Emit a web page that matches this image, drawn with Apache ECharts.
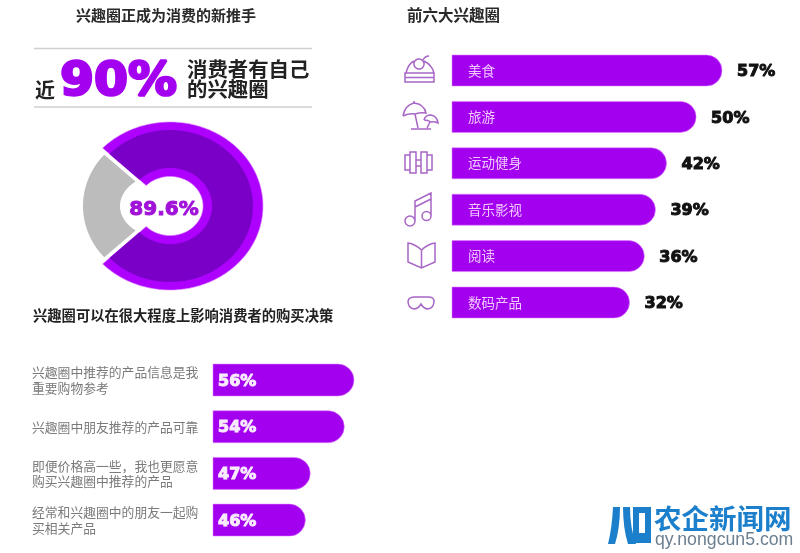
<!DOCTYPE html>
<html>
<head>
<meta charset="utf-8">
<title>兴趣圈</title>
<style>
    html, body { margin: 0; padding: 0; background: #fff; }
    #main { width: 800px; height: 553px; filter: blur(0.4px); }
</style>
<script src="https://cdn.jsdelivr.net/npm/echarts@6/dist/echarts.min.js"></script>
</head>
<body>
<div id="main"></div>
<script>
// 前六大兴趣圈
const topNames = ['美食', '旅游', '运动健身', '音乐影视', '阅读', '数码产品']
const topValues = [57, 50, 42, 39, 36, 32]

// 购买决策
const decisionNames = [
    '兴趣圈中推荐的产品信息是我\n重要购物参考',
    '兴趣圈中朋友推荐的产品可靠',
    '即便价格高一些，我也更愿意\n购买兴趣圈中推荐的产品',
    '经常和兴趣圈中的朋友一起购\n买相关产品'
]
const decisionValues = [56, 54, 47, 46]

// 圆环：印的是 89.6%，但原图画出来的扇区只占约 77%，这里按画出来的比例
const donutLabel = '89.6%'
const donutShares = [77.4, 22.6]

const PURPLE = '#a400f0'
const CJK = '"Noto Sans CJK SC"'
const NUM = '"DejaVu Sans"'

const chart = echarts.init(document.getElementById('main'))

function barShape(api, base, height, extra) {
    const start = api.coord([base, api.value(1)])
    const end = api.coord([api.value(0), api.value(1)])
    const w = end[0] - start[0]
    const r = height / 2
    return [{
        type: 'rect',
        shape: { x: start[0], y: start[1] - r, width: w, height: height, r: [0, r, r, 0] },
        style: { fill: PURPLE, stroke: 'rgba(222,130,255,0.55)', lineWidth: 1 }
    }].concat(extra(start, end))
}

function text(x, y, str, font, fill, align, stroke) {
    return {
        type: 'text',
        style: {
            x: x, y: y, text: str, font: font, fill: fill,
            align: align || 'left', verticalAlign: 'middle',
            stroke: stroke || null, lineWidth: stroke ? 1 : 0
        }
    }
}

// 原图的圆环被拉宽了，pie 画不了椭圆，用多边形取点
function ringPoints(c, outer, inner, from, to) {
    const pts = []
    const n = 160
    const at = (r, a) => {
        const d = 1 / Math.sqrt(Math.pow(Math.cos(a) / r[0], 2) + Math.pow(Math.sin(a) / r[1], 2))
        return [c[0] + d * Math.cos(a), c[1] + d * Math.sin(a)]
    }
    for (let i = 0; i <= n; i++) pts.push(at(outer, from + (to - from) * i / n))
    for (let i = n; i >= 0; i--) pts.push(at(inner, from + (to - from) * i / n))
    return pts
}

function ring(c, outer, inner, from, to, style) {
    return { type: 'polygon', shape: { points: ringPoints(c, outer, inner, from, to) }, style: style }
}

// 线性图标和水印，graphic 组件没有 path 类型，先注册成形状
function pathEl(name, d, style) {
    echarts.graphic.registerShape(name, echarts.graphic.extendPath(d))
    return { type: name, shape: {}, style: style }
}

const iconPaths = [
    'M405 73 H434 V82 H405 Z M405 77.5 H434 M406 73 Q408 64 414 61 M424 61 Q432 65 434 73 M414 65 A5 5 0 1 0 424 63 A5 5 0 1 0 414 65 M423 60 Q425 56 429 56',
    'M403 116 Q405 105 414 103 Q424 104 426 113 Q421 112 415 114 Q409 113 403 116 M414 103 V101 M415 114 L418 128 M411 129 H431 M424 120 Q425 115 431 115 Q437 116 438 123 Q434 121 431 122 Q428 120 424 120 M430 122 L427 128',
    'M405 155 H410 V170 H405 Z M410 152 H416 V173 H410 Z M421 152 H427 V173 H421 Z M427 155 H432 V170 H427 Z M416 160 H421 M416 166 H421',
    'M415 221 V201 L431 193 V216 M415 207 L431 199 M415 221 A5 5 0 1 1 405 221 A5 5 0 1 1 415 221 M431 216 A4.5 4.5 0 1 1 422 216 A4.5 4.5 0 1 1 431 216',
    'M421.5 250 Q415 244 408 243 V262 L421.5 268 L435 262 V243 Q428 244 421.5 250 V268',
    'M408 301 Q409 297 415 297 H428 Q434 297 434 301 Q434 308 428 309 Q424 309 421 304 Q418 309 414 309 Q408 308 408 301'
]
const logoPaths = [
    'M608 544 Q612 528 613 507 H620 Q620 528 615 544 Z',
    'M623 507 H630 Q630 528 636 544 H628 Q623 528 623 507 Z',
    'M633 507 H651 V543 H633 Z M639 513 V533 H645 V513 Z'
]

const option = {
    animation: false,
    backgroundColor: '#fff',
    grid: [
        { left: 452, top: 47.3, width: 270, height: 278.4 },
        { left: 213, top: 356.7, width: 141, height: 186.7 }
    ],
    xAxis: [
        { gridIndex: 0, type: 'value', min: -16, max: 57, show: false },
        { gridIndex: 1, type: 'value', min: 27, max: 56, show: false }
    ],
    yAxis: [
        { gridIndex: 0, type: 'category', data: topNames, inverse: true, show: false },
        {
            gridIndex: 1,
            type: 'category',
            data: decisionNames,
            inverse: true,
            axisLine: { show: false },
            axisTick: { show: false },
            axisLabel: {
                margin: 181,
                align: 'left',
                color: '#7a7a7a',
                fontFamily: CJK,
                fontSize: 12.8,
                lineHeight: 15.5
            }
        }
    ],
    series: [
        {
            type: 'custom',
            xAxisIndex: 0,
            yAxisIndex: 0,
            clip: false,
            data: topValues.map((v, i) => [v, i]),
            renderItem(params, api) {
                return {
                    type: 'group',
                    children: barShape(api, -16, 31, (s, e) => [
                        text(s[0] + 16, s[1], topNames[api.value(1)], '400 13.5px ' + CJK, '#f1c9ff'),
                        text(e[0] + 15, e[1] + 1.5, api.value(0) + '%', '700 16px ' + NUM, '#111', 'left', '#111')
                    ])
                }
            }
        },
        {
            type: 'custom',
            xAxisIndex: 1,
            yAxisIndex: 1,
            clip: false,
            data: decisionValues.map((v, i) => [v, i]),
            renderItem(params, api) {
                return {
                    type: 'group',
                    children: barShape(api, 27, 32, (s) => [
                        text(s[0] + 5, s[1] + 1.5, api.value(0) + '%', '700 16px ' + NUM, '#f8eaff', 'left', '#f8eaff')
                    ])
                }
            }
        },
        // 圆环，第一项紫色，第二项灰色并向左错开
        {
            type: 'custom',
            coordinateSystem: 'none',
            data: donutShares,
            renderItem(params, api) {
                const half = donutShares[1] / 100 * Math.PI
                if (params.dataIndex === 0) {
                    const c = [170, 206]
                    const from = -Math.PI + half
                    const to = Math.PI - half
                    return {
                        type: 'group',
                        children: [
                            ring(c, [93, 84], [33, 29.5], from, to, { fill: '#ae00ff', stroke: 'rgba(225,140,255,0.6)', lineWidth: 1 }),
                            ring(c, [83, 76], [42, 38], from, to, { fill: '#7a00c8' })
                        ]
                    }
                }
                return ring([164, 206], [81, 76], [44, 32], Math.PI - half, Math.PI + half, { fill: '#bdbcbd' })
            }
        }
    ],
    graphic: [
        // 标题
        { type: 'text', style: { x: 76, y: 15, text: '兴趣圈正成为消费的新推手', font: '700 15px ' + CJK, fill: '#2a2a2a', verticalAlign: 'middle' } },
        { type: 'text', style: { x: 407, y: 15, text: '前六大兴趣圈', font: '700 15.5px ' + CJK, fill: '#2a2a2a', verticalAlign: 'middle' } },
        { type: 'text', style: { x: 33, y: 316, text: '兴趣圈可以在很大程度上影响消费者的购买决策', font: '700 14.3px ' + CJK, fill: '#222', verticalAlign: 'middle' } },
        // 横线
        { type: 'line', shape: { x1: 34, y1: 48.5, x2: 312, y2: 48.5 }, style: { stroke: '#cfcfcf', lineWidth: 1.5 } },
        { type: 'line', shape: { x1: 34, y1: 107, x2: 312, y2: 107 }, style: { stroke: '#cfcfcf', lineWidth: 1.5 } },
        // 近90%
        { type: 'text', style: { x: 35, y: 90, text: '近', font: '700 20px ' + CJK, fill: '#222', verticalAlign: 'middle' } },
        { type: 'text', x: 60, y: 83, scaleX: 1.04, style: { x: 0, y: 0, text: '90%', font: '700 47px ' + NUM, fill: PURPLE, stroke: PURPLE, lineWidth: 2.5, verticalAlign: 'middle' } },
        { type: 'text', style: { x: 187, y: 69, text: '消费者有自己', font: '700 20.4px ' + CJK, fill: '#222', verticalAlign: 'middle' } },
        { type: 'text', style: { x: 187, y: 89, text: '的兴趣圈', font: '700 20.4px ' + CJK, fill: '#222', verticalAlign: 'middle' } },
        // 圆环中心
        { type: 'text', z: 10, style: { x: 164, y: 209.5, text: donutLabel, font: '700 20px ' + NUM, fill: '#a012d8', stroke: '#a012d8', lineWidth: 1, align: 'center', verticalAlign: 'middle' } }
    ]
        .concat(iconPaths.map((d, i) => pathEl('icon' + i, d, { fill: 'none', stroke: '#a866c6', lineWidth: 1.5 })))
        .concat(logoPaths.map((d, i) => pathEl('logo' + i, d, { fill: '#1c7fcb' })))
        .concat([
            // 水印
            { type: 'text', style: { x: 654, y: 519, text: '农企新闻网', font: '700 27.5px ' + CJK, fill: '#1c7fcb', verticalAlign: 'middle' } },
            { type: 'text', style: { x: 655, y: 540, text: 'qy.nongcun5.com', font: '400 17.7px "Liberation Sans"', fill: '#6c7f90', verticalAlign: 'middle' } }
        ])
}
chart.setOption(option)
</script>
</body>
</html>
